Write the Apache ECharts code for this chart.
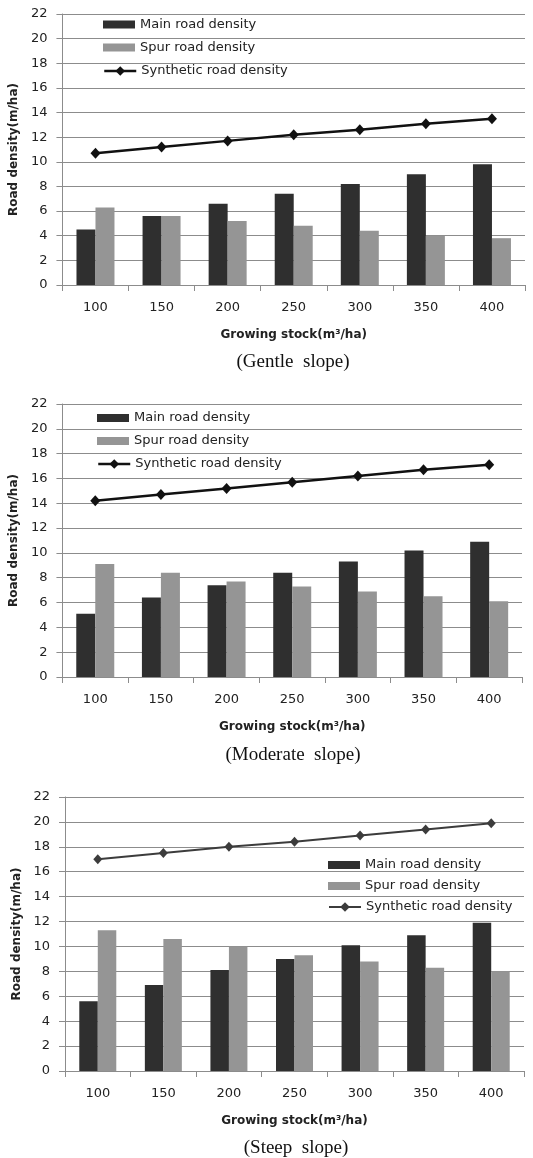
<!DOCTYPE html>
<html><head><meta charset="utf-8">
<script src="https://cdn.jsdelivr.net/npm/echarts@6/dist/echarts.min.js"></script>
<style>html,body{margin:0;padding:0;background:#fff}#c{width:533px;height:1158px}</style>
</head><body><div id="c"></div>
<script>
// ---- data ----
const categories = ['100','150','200','250','300','350','400'];
const seriesNames = ['Main road density','Spur road density','Synthetic road density'];
const gentleMain = [4.5,5.6,6.6,7.4,8.2,9.0,9.8];
const gentleSpur = [6.3,5.6,5.2,4.8,4.4,4.0,3.8];
const gentleSynthetic = [10.7,11.2,11.7,12.2,12.6,13.1,13.5];
const moderateMain = [5.1,6.4,7.4,8.4,9.3,10.2,10.9];
const moderateSpur = [9.1,8.4,7.7,7.3,6.9,6.5,6.1];
const moderateSynthetic = [14.2,14.7,15.2,15.7,16.2,16.7,17.1];
const steepMain = [5.6,6.9,8.1,9.0,10.1,10.9,11.9];
const steepSpur = [11.3,10.6,10.0,9.3,8.8,8.3,8.0];
const steepSynthetic = [17.0,17.5,18.0,18.4,18.9,19.4,19.9];
const captions = ['(Gentle  slope)','(Moderate  slope)','(Steep  slope)'];
const xAxisTitle = 'Growing stock(m³/ha)';
const yAxisTitle = 'Road density(m/ha)';
const yMin = 0, yMax = 22, yStep = 2;

// ---- layout / style ----
const panels = [
  {main: gentleMain, spur: gentleSpur, syn: gentleSynthetic,
   grid: {left: 60, top: 14, width: 465, height: 271}, barWidth: 19,
   lineColor: '#111', lineWidth: 2.5, sym: [10, 11],
   legendX: 103, legendY: [24.5, 47.5, 71], capX: 293, capY: 362},
  {main: moderateMain, spur: moderateSpur, syn: moderateSynthetic,
   grid: {left: 62, top: 404, width: 460, height: 273}, barWidth: 19,
   lineColor: '#111', lineWidth: 2.5, sym: [10, 11],
   legendX: 97, legendY: [418, 441, 464], capX: 293, capY: 755},
  {main: steepMain, spur: steepSpur, syn: steepSynthetic,
   grid: {left: 65, top: 797, width: 459, height: 274}, barWidth: 18.5,
   lineColor: '#3c3c3c', lineWidth: 2, sym: [9, 10],
   legendX: 328, legendY: [865, 886, 907], capX: 296, capY: 1148}
];
const mainColor = '#2f2f2f', spurColor = '#959595', gridColor = '#8c8c8c';
const font = 'DejaVu Sans';

const option = {
  animation: false,
  backgroundColor: '#fff',
  grid: [], xAxis: [], yAxis: [], series: [], legend: [], graphic: []
};

panels.forEach((p, i) => {
  option.grid.push(Object.assign({containLabel: false}, p.grid));
  option.xAxis.push({
    type: 'category', gridIndex: i, data: categories,
    axisLine: {lineStyle: {color: gridColor, width: 1}},
    axisTick: {show: true, length: 6, interval: 0, lineStyle: {color: gridColor}},
    axisLabel: {fontSize: 13, color: '#222', margin: 16, fontFamily: font, interval: 0},
    name: xAxisTitle, nameLocation: 'middle', nameGap: 44,
    nameTextStyle: {fontSize: 12, fontWeight: 'bold', color: '#222', fontFamily: font}
  });
  option.yAxis.push({
    type: 'value', gridIndex: i, min: yMin, max: yMax, interval: yStep,
    axisLine: {show: true, lineStyle: {color: gridColor, width: 1}},
    axisTick: {show: true, length: 6, lineStyle: {color: gridColor}},
    splitLine: {show: true, lineStyle: {color: gridColor, width: 1}},
    axisLabel: {fontSize: 13, color: '#222', margin: 15, fontFamily: font},
    name: yAxisTitle, nameLocation: 'middle', nameGap: 37, nameRotate: 90,
    nameTextStyle: {fontSize: 12, fontWeight: 'bold', color: '#222', fontFamily: font}
  });
  option.series.push({
    type: 'bar', name: seriesNames[0], xAxisIndex: i, yAxisIndex: i, data: p.main,
    barWidth: p.barWidth, barGap: '0%', itemStyle: {color: mainColor}
  });
  option.series.push({
    type: 'bar', name: seriesNames[1], xAxisIndex: i, yAxisIndex: i, data: p.spur,
    barWidth: p.barWidth, barGap: '0%', itemStyle: {color: spurColor}
  });
  option.series.push({
    type: 'line', name: seriesNames[2], xAxisIndex: i, yAxisIndex: i, data: p.syn,
    symbol: 'diamond', symbolSize: p.sym, z: 5,
    lineStyle: {color: p.lineColor, width: p.lineWidth},
    itemStyle: {color: p.lineColor}
  });
  const legendItems = [
    {name: seriesNames[0], icon: 'rect', itemStyle: {color: mainColor}},
    {name: seriesNames[1], icon: 'rect', itemStyle: {color: spurColor}},
    {name: seriesNames[2], itemStyle: {color: p.lineColor}, lineStyle: {color: p.lineColor, width: p.lineWidth}}
  ];
  legendItems.forEach((it, k) => {
    option.legend.push({
      left: p.legendX, top: p.legendY[k] - 7, orient: 'horizontal',
      itemWidth: 32, itemHeight: k === 2 ? 12 : 8, itemGap: 0, padding: 0,
      selectedMode: false, data: [it],
      textStyle: {fontSize: 13, lineHeight: 14, color: '#222', fontFamily: font}
    });
  });
  option.graphic.push({
    type: 'text', x: p.capX, y: p.capY,
    style: {text: captions[i], fill: '#111', font: '19px "Liberation Serif"', align: 'center', verticalAlign: 'middle'}
  });
});

const chart = echarts.init(document.getElementById('c'), null, {renderer: 'canvas'});
chart.setOption(option);
</script>
</body></html>
